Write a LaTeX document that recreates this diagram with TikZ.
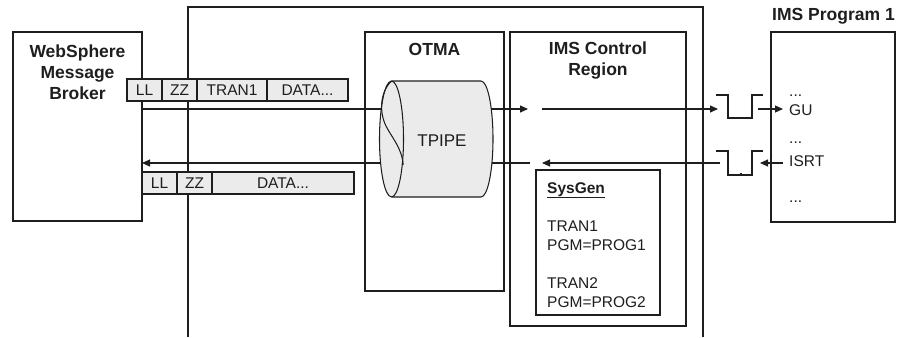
\documentclass[tikz,border=0pt]{standalone}
\usepackage{fontspec}
\setmainfont{Liberation Sans}
\usetikzlibrary{arrows.meta}
\definecolor{linec}{HTML}{1E1E1E}
\definecolor{fillc}{HTML}{EBEBEB}
\tikzset{
  frame/.style={draw=linec, line width=1.05pt},
  conn/.style={draw=linec, line width=1.05pt},
  arr/.style={conn, -{Triangle[length=8pt,width=7pt]}},
  ttl/.style={font=\bfseries\fontsize{17.5}{21}\selectfont, inner sep=0pt, text=linec},
  txt/.style={font=\fontsize{15.5}{18}\selectfont, inner sep=0pt, text=linec},
  cell/.style={frame, fill=fillc, minimum height=22pt, inner sep=0pt, font=\fontsize{15.5}{18}\selectfont, text=linec},
  boxx/.style={frame, inner sep=0pt},
}
\begin{document}
\begin{tikzpicture}[x=1pt,y=-1pt]
\useasboundingbox (0,0) rectangle (901,337);
% outer (open at the bottom) frame
\draw[frame] (188,337) |- (703,7) -- (703,337);
% boxes
\node[boxx, minimum width=129pt, minimum height=189pt] (wmb) at (77.5,126.5) {};
\node[boxx, minimum width=139pt, minimum height=259pt] (otma) at (434.5,161.5) {};
\node[boxx, minimum width=176pt, minimum height=294pt] (ctrl) at (598,179) {};
\node[boxx, minimum width=124pt, minimum height=145pt] (sysgen) at (598,242.5) {};
\node[boxx, minimum width=124pt, minimum height=190pt] (prog) at (833,127) {};
% titles
\node[ttl, anchor=base] (wmbt1) at (77.5,58) {WebSphere};
\node[ttl, anchor=base] (wmbt2) at (77.5,78.5) {Message};
\node[ttl, anchor=base] (wmbt3) at (77.5,99) {Broker};
\node[ttl, anchor=base] (otmat) at (434.5,55.5) {OTMA};
\node[ttl, anchor=base] (ctrlt1) at (598,55) {IMS Control};
\node[ttl, anchor=base] (ctrlt2) at (598,75.5) {Region};
\node[ttl, anchor=base] (progt) at (833.5,21) {IMS Program 1};
% SysGen texts
\node[txt, anchor=base west, font=\bfseries\fontsize{15.5}{18}\selectfont] (sg0) at (547,193) {\underline{SysGen}};
\node[txt, anchor=base west] (sg1) at (547,231) {TRAN1};
\node[txt, anchor=base west] (sg2) at (547,250) {PGM=PROG1};
\node[txt, anchor=base west] (sg3) at (547,288) {TRAN2};
\node[txt, anchor=base west] (sg4) at (547,307) {PGM=PROG2};
% program texts
\node[txt, anchor=base west] (p1) at (789,96) {...};
\node[txt, anchor=base west] (p2) at (789,115.7) {GU};
\node[txt, anchor=base west] (p3) at (789,143) {...};
\node[txt, anchor=base west] (p4) at (789,166) {ISRT};
\node[txt, anchor=base west] (p5) at (789,202) {...};
% TPIPE cylinder
\fill[fillc] (391.5,81) -- (481,81) arc[start angle=-90, end angle=90, x radius=12, y radius=58]
  -- (391.5,197) arc[start angle=90, end angle=270, x radius=12, y radius=58] -- cycle;
\draw[frame] (391.5,81) -- (481,81) arc[start angle=-90, end angle=90, x radius=12, y radius=58] -- (391.5,197);
\draw[frame] (391.5,139) ellipse[x radius=12, y radius=58];
\draw[frame] (391.5,81) .. controls (380,92) and (379,112) .. (386,126) .. controls (392,138) and (402,148) .. (403.2,165);
\node[txt, font=\fontsize{17}{20}\selectfont, anchor=base] (tpipe) at (442,146) {TPIPE};
% queues
\draw[frame] (716,95) -- (728,95) -- (728,118) -- (752,118) -- (752,95) -- (763,95);
\draw[frame] (716,151) -- (728,151) -- (728,175) -- (752,175) -- (752,151) -- (763,151);
\draw[frame] (741,175) -- (741,172.5);
% connector end points
\coordinate (a1) at (142,109);
\coordinate (cl1) at (381.2,109);
\coordinate (cr1) at (491.3,109);
\coordinate (t1) at (528,109);
\coordinate (s1) at (542,109);
\coordinate (q1in) at (718,109);
\coordinate (q1out) at (758,109);
\coordinate (gu) at (783,109);
\coordinate (isrt) at (783,163);
\coordinate (q2out) at (760,163);
\coordinate (q2in) at (720,163);
\coordinate (r1) at (542,163);
\coordinate (r2) at (530,163);
\coordinate (cr2) at (491.9,163);
\coordinate (cl2) at (380.6,163);
\coordinate (a2) at (142,163);
% connectors
\draw[conn] (a1) -- (cl1);
\draw[arr] (cr1) -- (t1);
\draw[arr] (s1) -- (q1in);
\draw[arr] (q1out) -- (gu);
\draw[arr] (isrt) -- (q2out);
\draw[arr] (q2in) -- (r1);
\draw[conn] (r2) -- (cr2);
\draw[arr] (cl2) -- (a2);
% message cells
\node[cell, minimum width=35pt] (m1) at (144.5,90) {LL};
\node[cell, minimum width=35pt] (m2) at (179.5,90) {ZZ};
\node[cell, minimum width=70pt] (m3) at (232,90) {TRAN1};
\node[cell, minimum width=81pt] (m4) at (307.5,90) {DATA...};
\node[cell, minimum width=35pt] (n1) at (159.5,183) {LL};
\node[cell, minimum width=35pt] (n2) at (194.5,183) {ZZ};
\node[cell, minimum width=142pt] (n3) at (283,183) {DATA...};
\end{tikzpicture}
\end{document}
